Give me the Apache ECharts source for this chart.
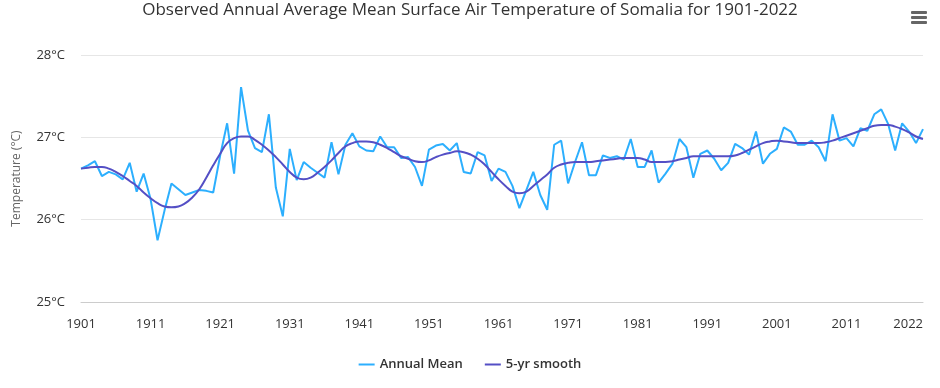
<!DOCTYPE html>
<html>
<head>
<meta charset="utf-8">
<script src="https://cdn.jsdelivr.net/npm/echarts@6/dist/echarts.min.js"></script>
<style>html,body{margin:0;padding:0;background:#fff}#c{width:940px;height:388px}</style>
</head>
<body>
<div id="c"></div>
<script>
const years = [];
for (let y = 1901; y <= 2022; y++) years.push(String(y));

const annualMean = [
  26.62, 26.66, 26.71, 26.53, 26.58, 26.55, 26.49, 26.69, 26.34, 26.56,
  26.25, 25.75, 26.11, 26.44, 26.37, 26.30, 26.33, 26.36, 26.35, 26.33,
  26.78, 27.17, 26.56, 27.61, 27.08, 26.87, 26.82, 27.28, 26.39, 26.04,
  26.86, 26.48, 26.70, 26.63, 26.57, 26.51, 26.94, 26.55, 26.91, 27.05,
  26.89, 26.84, 26.83, 27.01, 26.88, 26.88, 26.75, 26.76, 26.64, 26.41,
  26.85, 26.90, 26.92, 26.84, 26.93, 26.58, 26.56, 26.82, 26.78, 26.47,
  26.62, 26.58, 26.41, 26.14, 26.36, 26.58, 26.30, 26.12, 26.91, 26.96,
  26.44, 26.70, 26.94, 26.54, 26.54, 26.78, 26.75, 26.77, 26.73, 26.98,
  26.64, 26.64, 26.84, 26.45, 26.56, 26.68, 26.98, 26.88, 26.51, 26.80,
  26.84, 26.74, 26.60, 26.69, 26.92, 26.87, 26.79, 27.07, 26.68, 26.80,
  26.86, 27.12, 27.07, 26.91, 26.91, 26.96, 26.88, 26.71, 27.28, 26.96,
  26.99, 26.89, 27.11, 27.08, 27.28, 27.34, 27.16, 26.84, 27.17, 27.07,
  26.93, 27.10
];

const smooth5yr = [
  26.62, 26.63, 26.64, 26.64, 26.62, 26.58, 26.53, 26.47, 26.41, 26.33,
  26.26, 26.20, 26.16, 26.15, 26.16, 26.20, 26.27, 26.37, 26.51, 26.66,
  26.80, 26.93, 26.99, 27.01, 27.01, 26.97, 26.91, 26.84, 26.76, 26.67,
  26.58, 26.51, 26.49, 26.51, 26.57, 26.64, 26.72, 26.81, 26.89, 26.93,
  26.95, 26.95, 26.94, 26.91, 26.87, 26.82, 26.77, 26.74, 26.71, 26.70,
  26.72, 26.76, 26.79, 26.81, 26.83, 26.82, 26.79, 26.74, 26.67, 26.58,
  26.49, 26.41, 26.34, 26.32, 26.34, 26.41, 26.48, 26.55, 26.63, 26.67,
  26.69, 26.70, 26.70, 26.70, 26.71, 26.72, 26.73, 26.74, 26.75, 26.75,
  26.75, 26.73, 26.70, 26.70, 26.70, 26.71, 26.73, 26.75, 26.77, 26.77,
  26.77, 26.77, 26.77, 26.77, 26.78, 26.81, 26.85, 26.89, 26.93, 26.95,
  26.96, 26.95, 26.94, 26.93, 26.93, 26.93, 26.93, 26.94, 26.96, 26.99,
  27.02, 27.05, 27.08, 27.11, 27.14, 27.15, 27.15, 27.13, 27.10, 27.06,
  27.01, 26.98
];

const yTicks = [25, 26, 27, 28];
const titleText = 'Observed Annual Average Mean Surface Air Temperature of Somalia for 1901-2022';

const chart = echarts.init(document.getElementById('c'), null, {renderer: 'canvas'});
const FONT = '"Open Sans", "Noto Sans", sans-serif';
chart.setOption({
  animation: false,
  backgroundColor: '#ffffff',
  title: {
    text: titleText,
    left: 'center',
    top: 2,
    padding: [0, 5, 0, 5],
    textStyle: {fontFamily: FONT, fontSize: 17, fontWeight: 'normal', color: '#333333'}
  },
  legend: {
    bottom: 12,
    left: 'center',
    icon: 'rect',
    itemWidth: 16,
    itemHeight: 2,
    itemGap: 22,
    textStyle: {fontFamily: FONT, fontSize: 13, fontWeight: 600, color: '#333333'},
    data: ['Annual Mean', '5-yr smooth']
  },
  grid: {left: 81, right: 17, top: 55, bottom: 86, containLabel: false},
  xAxis: {
    type: 'category',
    data: years,
    boundaryGap: false,
    axisLine: {lineStyle: {color: '#cccccc', width: 1}},
    axisTick: {show: false},
    axisLabel: {
      interval: function (i) { return i % 10 === 0 || i === years.length - 1; },
      showMaxLabel: true,
      showMinLabel: true,
      alignMaxLabel: 'right',
      hideOverlap: false,
      fontFamily: FONT, fontSize: 13, color: '#333333', margin: 16
    },
    splitLine: {show: false}
  },
  yAxis: {
    type: 'value',
    min: yTicks[0],
    max: yTicks[yTicks.length - 1],
    interval: 1,
    name: 'Temperature (°C)',
    nameLocation: 'middle',
    nameGap: 58,
    nameTextStyle: {fontFamily: FONT, fontSize: 12, color: '#666666'},
    axisLine: {show: false},
    axisTick: {show: false},
    axisLabel: {formatter: '{value}°C', fontFamily: FONT, fontSize: 13, color: '#333333', margin: 16},
    splitLine: {lineStyle: {color: '#e6e6e6', width: 1}}
  },
  series: [
    {
      name: 'Annual Mean',
      type: 'line',
      data: annualMean,
      showSymbol: false,
      symbol: 'none',
      lineStyle: {color: '#2caffe', width: 2},
      itemStyle: {color: '#2caffe'},
      z: 2
    },
    {
      name: '5-yr smooth',
      type: 'line',
      data: smooth5yr,
      smooth: true,
      showSymbol: false,
      symbol: 'none',
      lineStyle: {color: '#544fc5', width: 2},
      itemStyle: {color: '#544fc5'},
      z: 3
    }
  ],
  graphic: [
    {type: 'rect', right: 13, top: 11, shape: {width: 16, height: 3, r: 1}, style: {fill: '#666666'}},
    {type: 'rect', right: 13, top: 16, shape: {width: 16, height: 3, r: 1}, style: {fill: '#666666'}},
    {type: 'rect', right: 13, top: 21, shape: {width: 16, height: 3, r: 1}, style: {fill: '#666666'}}
  ]
});
</script>
</body>
</html>
